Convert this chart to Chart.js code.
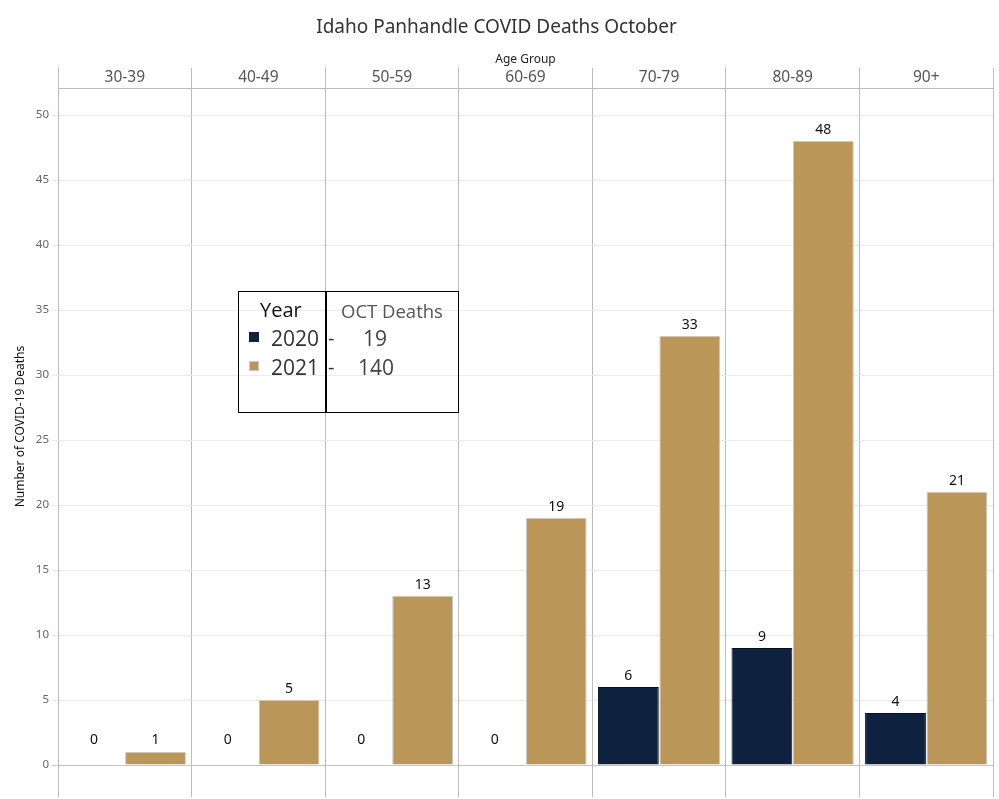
<!DOCTYPE html>
<html lang="en">
<head>
  <meta charset="UTF-8">
  <script src="https://cdn.jsdelivr.net/npm/chart.js"></script>
  <title>Idaho Panhandle COVID Deaths October</title>
  <style>
    body{margin: 0; background: #fff;}
    #wrap{position: relative; width: 999px; height: 799px;}
    #legendBox{position: absolute; left: 238px; top: 291px; width: 219px; height: 120px; border: 1.5px solid #000; font-family: "Open Sans", sans-serif;}
    #legendBox .divider{position: absolute; left: 86px; top: 0; width: 1.5px; height: 100%; background: #000;}
    #legendBox .t{position: absolute; line-height: 24px; white-space: nowrap;}
    #legendBox .sw{position: absolute; width: 10px; height: 10px;}
  </style>
</head>
<body>
  <div id="wrap">
    <canvas id="myChart" width="999" height="799"></canvas>
    <div id="legendBox"></div>
  </div>
  <script>
    // data
    const ageGroups = ['30-39', '40-49', '50-59', '60-69', '70-79', '80-89', '90+'];
    const years = ['2020', '2021'];
    const deaths2020 = [0, 0, 0, 0, 6, 9, 4];
    const deaths2021 = [1, 5, 13, 19, 33, 48, 21];
    const yTicks = [0, 5, 10, 15, 20, 25, 30, 35, 40, 45, 50];
    const yTitle = 'Number of COVID-19 Deaths';

    const navy = '#0e2240';
    const gold = '#ba9759';

    // labels above bars + y title (centred between top and the zero line)
    const barLabels = {
      id: 'barLabels',
      afterDatasetsDraw(chart) {
        const ctx = chart.ctx;
        const zeroY = chart.scales.y.getPixelForValue(0);
        ctx.save();
        ctx.font = '14px "Noto Sans", sans-serif';
        ctx.fillStyle = '#111';
        ctx.textAlign = 'center';
        ctx.textBaseline = 'middle';
        chart.data.datasets.forEach((ds, i) => {
          chart.getDatasetMeta(i).data.forEach((bar, j) => {
            let y = Math.min(bar.y - 11.5, zeroY - 25);
            ctx.fillText(ds.data[j], bar.x, y);
          });
        });
        // y axis title
        ctx.translate(21, (chart.chartArea.top + zeroY) / 2);
        ctx.rotate(-Math.PI / 2);
        ctx.font = '12px "Noto Sans", sans-serif';
        ctx.fillText(yTitle, 0, 0);
        ctx.restore();
      }
    };

    const ctx = document.getElementById('myChart');
    new Chart(ctx, {
      type: 'bar',
      data: {
        labels: ageGroups,
        datasets: [{
          label: years[0],
          data: deaths2020,
          backgroundColor: navy,
          borderColor: '#050f20',
          borderWidth: c => c.raw === 0 ? 0 : 1,
          categoryPercentage: 0.92,
          barPercentage: 0.99
        }, {
          label: years[1],
          data: deaths2021,
          backgroundColor: gold,
          borderColor: '#c6c9d1',
          borderWidth: 1,
          categoryPercentage: 0.92,
          barPercentage: 0.99
        }]
      },
      options: {
        responsive: false,
        animation: false,
        layout: {padding: {left: 0, right: 6, top: 0, bottom: 2}},
        plugins: {
          legend: {display: false},
          tooltip: {enabled: false},
          title: {
            display: true,
            text: 'Idaho Panhandle COVID Deaths October',
            color: '#333',
            font: {family: '"Noto Sans", sans-serif', size: 19, weight: 'normal'},
            padding: {top: 16, bottom: 13.2}
          }
        },
        scales: {
          x: {
            position: 'top',
            grid: {offset: true, tickLength: 20, color: '#bcbcbc', lineWidth: 1},
            border: {display: true, color: '#bcbcbc'},
            ticks: {
              padding: -19,
              color: '#555',
              font: {family: '"Noto Sans", sans-serif', size: 15.5}
            },
            title: {
              display: true,
              text: 'Age Group',
              color: '#222',
              font: {family: '"Noto Sans", sans-serif', size: 12},
              padding: {top: 0, bottom: 0}
            },
            afterFit: s => { s.height = 36; }
          },
          y: {
            min: -2.46,
            max: 52.08,
            grid: {
              color: c => c.tick && c.tick.value === 0 ? '#c4c4c4' : '#ececec',
              tickLength: 6
            },
            border: {display: false},
            afterBuildTicks: s => { s.ticks = yTicks.map(v => ({value: v})); },
            ticks: {
              padding: 3,
              color: '#666',
              font: {family: '"Noto Sans", sans-serif', size: 11.5}
            },
            title: {display: false},
            afterFit: s => { s.width = 58; s.paddingTop = 0; s.paddingBottom = 0; }
          }
        }
      },
      plugins: [barLabels]
    });

    // legend box with totals
    const sum = a => a.reduce((p, v) => p + v, 0);
    const totals = [sum(deaths2020), sum(deaths2021)];
    const box = document.getElementById('legendBox');
    function add(cls, left, top, text, style) {
      const d = document.createElement('div');
      d.className = cls;
      d.style.left = left + 'px';
      d.style.top = top + 'px';
      if (text !== null) d.textContent = text;
      Object.assign(d.style, style || {});
      box.appendChild(d);
    }
    box.innerHTML = '<div class="divider"></div>';
    add('t', 21, 6, 'Year', {fontSize: '20px', color: '#111'});
    add('t', 102, 7, 'OCT Deaths', {fontSize: '18.5px', color: '#555'});
    add('sw', 10, 40, null, {background: navy});
    add('sw', 10, 69, null, {background: gold, outline: '1px solid #c6c9d1', outlineOffset: '-1px'});
    add('t', 32, 34, years[0], {fontSize: '21px', color: '#333'});
    add('t', 32, 63, years[1], {fontSize: '21px', color: '#333'});
    add('t', 89, 34, '-', {fontSize: '20px', color: '#333'});
    add('t', 89, 63, '-', {fontSize: '20px', color: '#333'});
    add('t', 124, 34, totals[0], {fontSize: '21px', color: '#444'});
    add('t', 119, 63, totals[1], {fontSize: '21px', color: '#444'});
  </script>
</body>
</html>
